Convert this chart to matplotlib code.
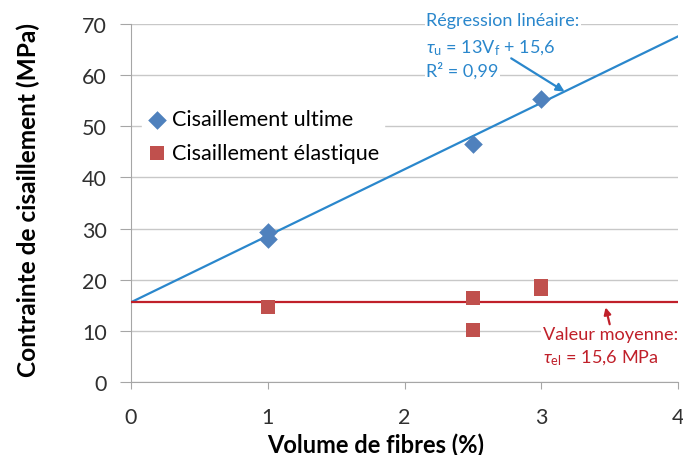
import numpy as np
import matplotlib
matplotlib.use("Agg")
import matplotlib.pyplot as plt

plt.rcParams["font.family"] = ["Lato", "DejaVu Sans"]
plt.rcParams["mathtext.fontset"] = "custom"
plt.rcParams["mathtext.rm"] = "Lato"
plt.rcParams["mathtext.it"] = "Lato:italic"

# Measured shear stresses (MPa) against fibre volume (%)
ultimate_vf = [1, 1, 2.5, 3]
ultimate_tau = [29.3, 28.0, 46.5, 55.3]
elastic_vf = [1, 2.5, 2.5, 3, 3]
elastic_tau = [14.6, 16.5, 10.1, 18.7, 18.2]

# Linear fit of ultimate stress and mean elastic stress
slope, intercept = 13, 15.6
elastic_mean = 15.6

blue_marker = "#4f81bd"
red_marker = "#c0504d"
blue_line = "#2a87cc"
red_line = "#c0202a"
grid_col = "#c8c8c8"

fig = plt.figure(figsize=(6.83, 4.56), dpi=100)
ax = fig.add_axes([0.1918, 0.160, 0.801, 0.785])

x_fit = np.array([0, 4])
ax.plot(x_fit, slope * x_fit + intercept, color=blue_line, lw=1.6, zorder=3)
ax.plot(x_fit, [elastic_mean, elastic_mean], color=red_line, lw=1.6, zorder=3)

ax.scatter(ultimate_vf, ultimate_tau, marker="D", s=90, color=blue_marker,
           label="Cisaillement ultime", zorder=4, linewidths=0)
ax.scatter(elastic_vf, elastic_tau, marker="s", s=105, color=red_marker,
           label="Cisaillement élastique", zorder=4, linewidths=0)

ax.set_xlim(0, 4)
ax.set_ylim(0, 70)
ax.set_xticks([0, 1, 2, 3, 4])
ax.set_yticks(range(0, 71, 10))
ax.yaxis.grid(True, color=grid_col, lw=1)
ax.set_axisbelow(True)
for side in ["top", "right"]:
    ax.spines[side].set_visible(False)
for side in ["left", "bottom"]:
    ax.spines[side].set_color("#a6a6a6")
ax.tick_params(axis="both", direction="out", color="#a6a6a6",
               labelsize=15.5, labelcolor="#303030")
ax.tick_params(axis="y", length=8, pad=9.5)
ax.tick_params(axis="x", length=5, pad=13)

ax.set_xlabel("Volume de fibres (%)", fontsize=17, fontweight="bold", va="center")
ax.xaxis.set_label_coords(0.448, -0.173)
ax.set_ylabel("Contrainte de cisaillement (MPa)", fontsize=17.6, fontweight="bold", va="center")
ax.yaxis.set_label_coords(-0.188, 0.511)

leg = ax.legend(loc="upper left", bbox_to_anchor=(0.02, 0.774), borderaxespad=0,
                frameon=True, fontsize=15.6, handletextpad=0.2, handlelength=1.0,
                borderpad=0.2, labelspacing=0.61, scatterpoints=1)
leg.get_frame().set_edgecolor("white")
leg.get_frame().set_facecolor("white")
leg.get_frame().set_alpha(1)

box = dict(facecolor="white", edgecolor="none", pad=1)
ax.text(2.157, 70.8, "Régression linéaire:", color=blue_line, fontsize=13,
        va="center", ha="left", bbox=box)
ax.text(2.157, 65.5, r"$\tau_\mathrm{u}$ = 13V$_\mathrm{f}$ + 15,6", color=blue_line,
        fontsize=13, va="center", ha="left", bbox=box)
ax.text(2.157, 61.0, "R² = 0,99", color=blue_line, fontsize=13,
        va="center", ha="left", bbox=box)
ax.annotate("", xy=(3.17, 56.8), xytext=(2.78, 63.3),
            arrowprops=dict(arrowstyle="-|>", color=blue_line, lw=1.6,
                            mutation_scale=12, shrinkA=0, shrinkB=0))

ax.text(3.01, 9.3, "Valeur moyenne:", color=red_line, fontsize=13.1,
        va="center", ha="left", bbox=box)
ax.text(3.01, 4.8, r"$\tau_\mathrm{el}$ = 15,6 MPa", color=red_line, fontsize=13.1,
        va="center", ha="left", bbox=box)
ax.annotate("", xy=(3.47, 14.6), xytext=(3.50, 11.3),
            arrowprops=dict(arrowstyle="-|>", color=red_line, lw=1.6,
                            mutation_scale=10, shrinkA=0, shrinkB=0))

fig.savefig("out.png", dpi=100)
